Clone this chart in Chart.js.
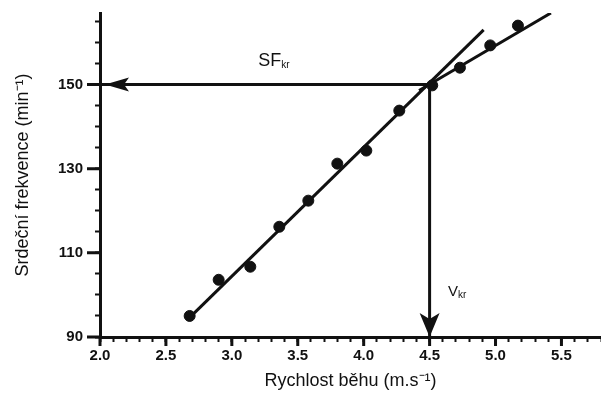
<!DOCTYPE html>
<html>
<head>
<meta charset="utf-8">
<script src="https://cdn.jsdelivr.net/npm/chart.js@4.4.0/dist/chart.umd.min.js"></script>
<style>
body { margin: 0; background: #fff; }
#wrap { width: 601px; height: 396px; }
</style>
</head>
<body>
<div id="wrap"><canvas id="myChart" width="601" height="396"></canvas></div>
<script>
// measured points: running speed vs heart rate
var speeds = [2.68, 2.90, 3.14, 3.36, 3.58, 3.80, 4.02, 4.27, 4.52, 4.73, 4.96, 5.17];
var heartRates = [95.0, 103.6, 106.7, 116.2, 122.4, 131.2, 134.3, 143.8, 149.8, 154.0, 159.3, 164.0];

// the two fitted lines (end points)
var lowerFitX = [2.66, 4.91];
var lowerFitY = [94.0, 163.0];
var upperFitX = [4.42, 5.42];
var upperFitY = [148.6, 167.0];

// deflection point
var critSpeed = 4.5;
var critRate = 150;

var xLabels = [2.0, 2.5, 3.0, 3.5, 4.0, 4.5, 5.0, 5.5];
var yLabels = [90, 110, 130, 150];

var ink = '#111';
var font = '"Liberation Sans", Arial, sans-serif';

function pts(xs, ys) {
    return xs.map(function (x, i) { return { x: x, y: ys[i] }; });
}
function isLabel(list, v) {
    return list.some(function (l) { return Math.abs(l - v) < 1e-6; });
}

var extras = {
    id: 'extras',
    afterDatasetsDraw: function (chart) {
        var ctx = chart.ctx, a = chart.chartArea;
        var xs = chart.scales.x, ys = chart.scales.y;
        ctx.save();
        // longer major ticks
        ctx.strokeStyle = ink;
        ctx.lineWidth = 3;
        ctx.beginPath();
        xLabels.forEach(function (v) {
            var px = xs.getPixelForValue(v);
            ctx.moveTo(px, a.bottom);
            ctx.lineTo(px, a.bottom + 9);
        });
        yLabels.forEach(function (v) {
            var py = ys.getPixelForValue(v);
            ctx.moveTo(a.left, py);
            ctx.lineTo(a.left - 13, py);
        });
        ctx.stroke();

        // arrow heads
        ctx.fillStyle = ink;
        var cx = xs.getPixelForValue(critSpeed), cy = ys.getPixelForValue(critRate);
        // left pointing, at the y axis
        var tx = a.left + 5;
        ctx.beginPath();
        ctx.moveTo(tx, cy);
        ctx.lineTo(tx + 24, cy - 7);
        ctx.lineTo(tx + 19, cy);
        ctx.lineTo(tx + 24, cy + 7);
        ctx.closePath();
        ctx.fill();
        // down pointing, at the x axis
        var ty = a.bottom;
        ctx.beginPath();
        ctx.moveTo(cx, ty);
        ctx.lineTo(cx - 10, ty - 24);
        ctx.lineTo(cx, ty - 18);
        ctx.lineTo(cx + 10, ty - 24);
        ctx.closePath();
        ctx.fill();

        // SF kr / V kr labels
        ctx.textBaseline = 'alphabetic';
        ctx.font = '18px ' + font;
        var sx = xs.getPixelForValue(3.2), sy = ys.getPixelForValue(154.3);
        ctx.fillText('SF', sx, sy);
        var w = ctx.measureText('SF').width;
        ctx.font = '10px ' + font;
        ctx.fillText('kr', sx + w, sy + 2);

        ctx.font = '15px ' + font;
        var vx = xs.getPixelForValue(4.64), vy = ys.getPixelForValue(99.8);
        ctx.fillText('V', vx, vy);
        w = ctx.measureText('V').width;
        ctx.font = '10px ' + font;
        ctx.fillText('kr', vx + w, vy + 2);
        ctx.restore();
    }
};

var lineStyle = { showLine: true, borderColor: ink, borderWidth: 3, pointRadius: 0, fill: false };

new Chart(document.getElementById('myChart'), {
    type: 'scatter',
    data: {
        datasets: [
            { data: pts(speeds, heartRates), backgroundColor: ink, borderColor: ink, pointRadius: 5.5, showLine: false },
            Object.assign({ data: pts(lowerFitX, lowerFitY) }, lineStyle),
            Object.assign({ data: pts(upperFitX, upperFitY) }, lineStyle),
            Object.assign({ data: [{ x: critSpeed, y: critRate }, { x: 2.0, y: critRate }] }, lineStyle),
            Object.assign({ data: [{ x: critSpeed, y: critRate }, { x: critSpeed, y: 90 }] }, lineStyle)
        ]
    },
    options: {
        responsive: false,
        animation: false,
        layout: { autoPadding: false, padding: { top: 13, right: 0, bottom: 4, left: 4 } },
        plugins: { legend: { display: false }, tooltip: { enabled: false } },
        scales: {
            x: {
                type: 'linear',
                min: 2.0,
                max: 5.8,
                afterFit: function (s) { s.height = 55; s.paddingLeft = 0; s.paddingRight = 0; },
                border: { display: true, color: ink, width: 3 },
                grid: { drawOnChartArea: false, drawTicks: true, tickLength: 5, tickColor: ink, tickWidth: 2 },
                ticks: {
                    stepSize: 0.1,
                    includeBounds: false,
                    autoSkip: false,
                    maxRotation: 0,
                    padding: 5,
                    color: ink,
                    font: { family: font, size: 15, weight: 'bold' },
                    callback: function (v) { return isLabel(xLabels, v) ? v.toFixed(1) : ''; }
                },
                title: {
                    display: true,
                    text: 'Rychlost běhu (m.s⁻¹)',
                    color: ink,
                    font: { family: font, size: 18 },
                    padding: { top: 2, bottom: 0 }
                }
            },
            y: {
                type: 'linear',
                min: 90,
                max: 167,
                afterFit: function (s) { s.width = 96; s.paddingTop = 0; s.paddingBottom = 0; },
                border: { display: true, color: ink, width: 3 },
                grid: { drawOnChartArea: false, drawTicks: true, tickLength: 5, tickColor: ink, tickWidth: 2 },
                ticks: {
                    stepSize: 5,
                    includeBounds: false,
                    autoSkip: false,
                    padding: 12,
                    color: ink,
                    font: { family: font, size: 15, weight: 'bold' },
                    callback: function (v) { return isLabel(yLabels, v) ? String(v) : ''; }
                },
                title: {
                    display: true,
                    text: 'Srdeční frekvence (min⁻¹)',
                    color: ink,
                    font: { family: font, size: 18 },
                    padding: { top: 8, bottom: 4 }
                }
            }
        }
    },
    plugins: [extras]
});
</script>
</body>
</html>
